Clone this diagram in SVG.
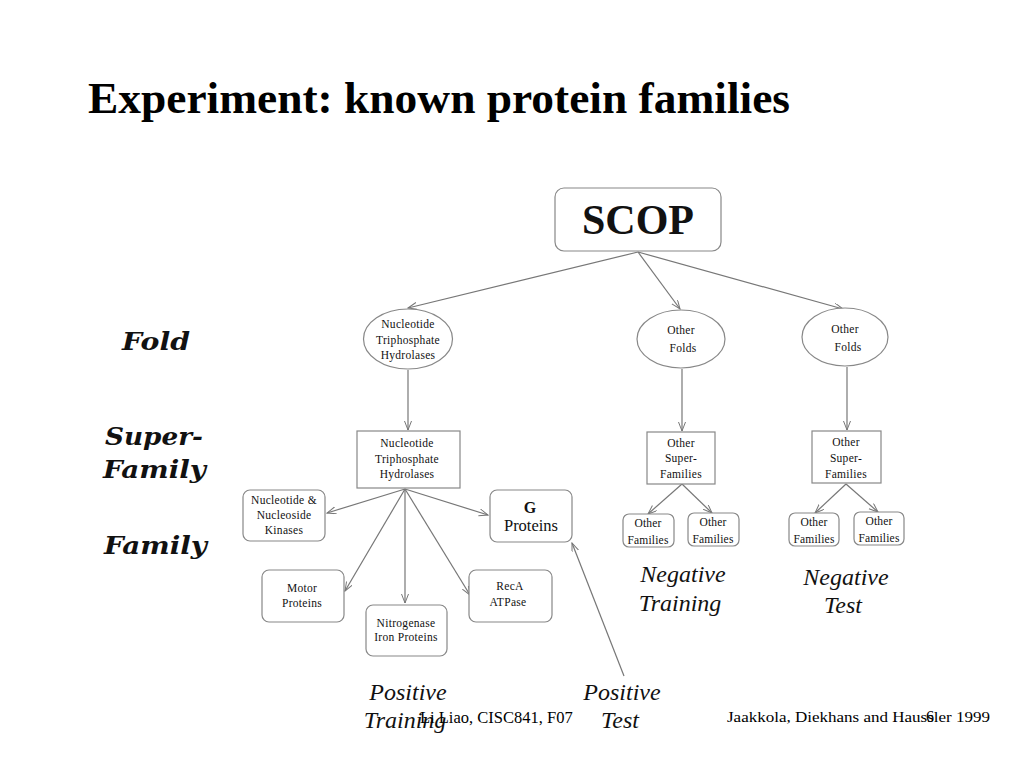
<svg xmlns="http://www.w3.org/2000/svg" width="1024" height="768" viewBox="0 0 1024 768">
<defs>
<marker id="ah" markerUnits="userSpaceOnUse" markerWidth="10" markerHeight="8" refX="9" refY="3.5" orient="auto">
<path d="M0,0 L9,3.5 L0,7" fill="none" stroke="#777" stroke-width="1"/>
</marker>
</defs>
<style>
.bg{fill:#fff}
.node{fill:#fff;stroke:#888;stroke-width:1.2}
.edge{stroke:#777;stroke-width:1.2;fill:none;marker-end:url(#ah)}
.t{font-family:"Liberation Serif","Times New Roman",serif;fill:#111;text-anchor:middle}
.s{font-size:11.5px;letter-spacing:0.3px}
.fam{font-size:11.5px;letter-spacing:0.2px}
.it{font-family:"Liberation Serif","Times New Roman",serif;font-style:italic;font-size:24px;fill:#111;text-anchor:middle}
.lvl{font-family:"DejaVu Serif","Liberation Serif",serif;font-style:italic;font-weight:bold;font-size:25px;fill:#111}
.foot{font-family:"Liberation Serif","Times New Roman",serif;fill:#000}
</style>
<rect class="bg" x="0" y="0" width="1024" height="768"/>
<text x="88" y="113" font-family="Liberation Serif, Times New Roman, serif" font-weight="bold" font-size="45" fill="#000" textLength="702" lengthAdjust="spacingAndGlyphs">Experiment: known protein families</text>

<g id="levels">
<text class="lvl" x="122" y="350" textLength="68" lengthAdjust="spacingAndGlyphs">Fold</text>
<text class="lvl" x="105" y="445" textLength="98" lengthAdjust="spacingAndGlyphs">Super-</text>
<text class="lvl" x="103" y="478" textLength="103" lengthAdjust="spacingAndGlyphs">Family</text>
<text class="lvl" x="104" y="554" textLength="103" lengthAdjust="spacingAndGlyphs">Family</text>
</g>

<g id="connectors">
<line class="edge" x1="638" y1="252" x2="408" y2="308"/>
<line class="edge" x1="638" y1="252" x2="680" y2="309"/>
<line class="edge" x1="638" y1="252" x2="843" y2="309"/>
<line class="edge" x1="408" y1="370" x2="408" y2="430"/>
<line class="edge" x1="682" y1="369" x2="682" y2="431"/>
<line class="edge" x1="847" y1="367" x2="847" y2="430"/>
<line class="edge" x1="405" y1="489" x2="327" y2="513"/>
<line class="edge" x1="405" y1="489" x2="488" y2="515"/>
<line class="edge" x1="405" y1="489" x2="345" y2="591"/>
<line class="edge" x1="405" y1="489" x2="405" y2="603"/>
<line class="edge" x1="405" y1="489" x2="470" y2="595"/>
<line class="edge" x1="682" y1="484" x2="648" y2="514"/>
<line class="edge" x1="682" y1="484" x2="712" y2="513"/>
<line class="edge" x1="846" y1="484" x2="815" y2="513"/>
<line class="edge" x1="846" y1="484" x2="878" y2="512"/>
<line class="edge" x1="624" y1="676" x2="572" y2="543"/>
</g>

<g id="scop">
<rect class="node" x="555" y="188" width="166" height="63" rx="9"/>
<text class="t" x="638" y="234" font-size="42" font-weight="bold">SCOP</text>
</g>

<g id="fold-ntp">
<ellipse class="node" cx="408" cy="339" rx="44.5" ry="30"/>
<text class="t s" x="408" y="328">Nucleotide</text>
<text class="t s" x="408" y="344">Triphosphate</text>
<text class="t s" x="408" y="359">Hydrolases</text>
</g>
<g id="fold-other1">
<ellipse class="node" cx="681" cy="339" rx="44" ry="29"/>
<text class="t s" x="681" y="334">Other</text>
<text class="t s" x="683" y="352">Folds</text>
</g>
<g id="fold-other2">
<ellipse class="node" cx="845" cy="337" rx="43" ry="29"/>
<text class="t s" x="845" y="333">Other</text>
<text class="t s" x="848" y="351">Folds</text>
</g>

<g id="sf-ntp">
<rect class="node" x="357" y="431" width="103" height="57"/>
<text class="t s" x="407" y="447">Nucleotide</text>
<text class="t s" x="407" y="463">Triphosphate</text>
<text class="t s" x="407" y="478">Hydrolases</text>
</g>
<g id="sf-other1">
<rect class="node" x="647" y="432" width="68" height="52"/>
<text class="t s" x="681" y="447">Other</text>
<text class="t s" x="681" y="462">Super-</text>
<text class="t s" x="681" y="478">Families</text>
</g>
<g id="sf-other2">
<rect class="node" x="812" y="431" width="69" height="52"/>
<text class="t s" x="846" y="446">Other</text>
<text class="t s" x="846" y="462">Super-</text>
<text class="t s" x="846" y="478">Families</text>
</g>

<g id="fam-kinases">
<rect class="node" x="243" y="490" width="82" height="51" rx="7"/>
<text class="t s" x="284" y="504">Nucleotide &amp;</text>
<text class="t s" x="284" y="519">Nucleoside</text>
<text class="t s" x="284" y="534">Kinases</text>
</g>
<g id="fam-gproteins">
<rect class="node" x="490" y="490" width="82" height="52" rx="7"/>
<text class="t" x="530" y="513" font-size="16" font-weight="bold">G</text>
<text class="t" x="531" y="531" font-size="16.5">Proteins</text>
</g>
<g id="fam-motor">
<rect class="node" x="262" y="570" width="82" height="52" rx="7"/>
<text class="t s" x="302" y="592">Motor</text>
<text class="t s" x="302" y="607">Proteins</text>
</g>
<g id="fam-nitrogenase">
<rect class="node" x="366" y="605" width="81" height="51" rx="7"/>
<text class="t s" x="406" y="627">Nitrogenase</text>
<text class="t s" x="406" y="641">Iron Proteins</text>
</g>
<g id="fam-reca">
<rect class="node" x="469" y="570" width="83" height="52" rx="7"/>
<text class="t s" x="510" y="590">RecA</text>
<text class="t s" x="508" y="606">ATPase</text>
</g>
<g id="fam-other1a">
<rect class="node" x="623" y="514" width="51" height="33" rx="6"/>
<text class="t fam" x="648" y="527">Other</text>
<text class="t fam" x="648" y="544">Families</text>
</g>
<g id="fam-other1b">
<rect class="node" x="688" y="513" width="51" height="33" rx="6"/>
<text class="t fam" x="713" y="526">Other</text>
<text class="t fam" x="713" y="543">Families</text>
</g>
<g id="fam-other2a">
<rect class="node" x="789" y="513" width="50" height="33" rx="6"/>
<text class="t fam" x="814" y="526">Other</text>
<text class="t fam" x="814" y="543">Families</text>
</g>
<g id="fam-other2b">
<rect class="node" x="854" y="512" width="50" height="33" rx="6"/>
<text class="t fam" x="879" y="525">Other</text>
<text class="t fam" x="879" y="542">Families</text>
</g>

<g id="labels">
<text class="it" x="683" y="582">Negative</text>
<text class="it" x="680" y="611">Training</text>
<text class="it" x="846" y="585">Negative</text>
<text class="it" x="843" y="613">Test</text>
<text class="it" x="408" y="700">Positive</text>
<text class="it" x="405" y="728">Training</text>
<text class="it" x="622" y="700">Positive</text>
<text class="it" x="620" y="728">Test</text>
</g>

<g id="footer">
<text class="foot" x="420" y="723" font-size="16.5">Li Liao, CISC841, F07</text>
<text class="foot" x="727" y="722" font-size="14.5" textLength="263" lengthAdjust="spacingAndGlyphs">Jaakkola, Diekhans and Haussler 1999</text>
<text class="foot" x="926" y="722" font-size="16">6</text>
</g>
</svg>
